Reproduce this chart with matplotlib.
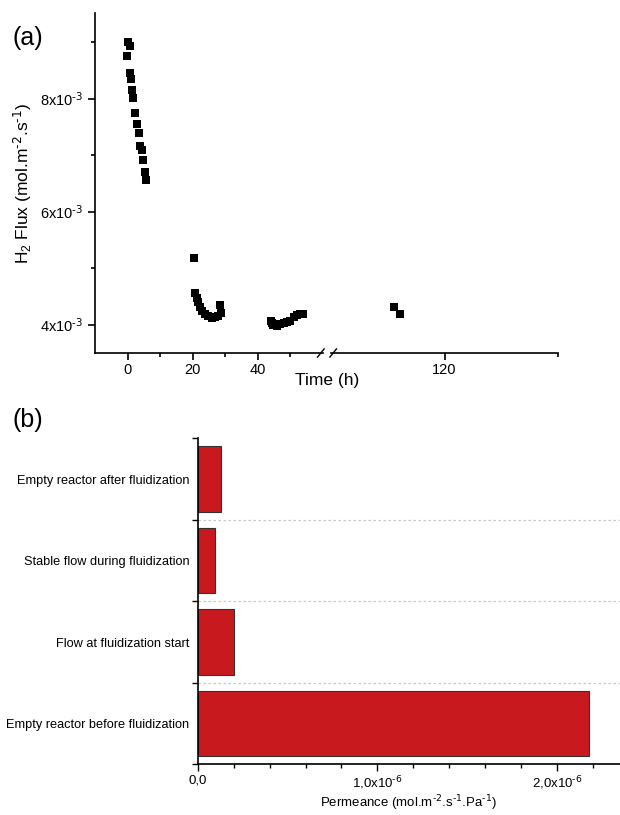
import matplotlib

matplotlib.use("Agg")
import matplotlib.pyplot as plt
from matplotlib.ticker import FixedLocator, FuncFormatter

plt.rcParams["font.family"] = ["Liberation Sans", "DejaVu Sans"]
plt.rcParams["mathtext.default"] = "regular"

# (a) H2 flux vs time, first segment (0-60 h)
time_a = [0.2, 0.6, -0.1, 0.6, 0.9, 1.4, 1.8, 2.3, 2.9, 3.4, 3.9, 4.4, 4.8, 5.3, 5.8,
          20.4, 20.8, 21.2, 21.7, 22.2, 23.0, 23.8, 24.8, 25.8, 26.9, 27.9, 28.6, 28.4,
          44.0, 44.3, 44.8, 45.8, 46.9, 47.9, 48.9, 49.9, 51.0, 52.0, 53.0, 54.0]
flux_a = [9.00, 8.94, 8.75, 8.45, 8.35, 8.15, 8.02, 7.75, 7.55, 7.40, 7.17, 7.10, 6.91, 6.71, 6.57,
          5.18, 4.56, 4.47, 4.40, 4.32, 4.25, 4.19, 4.15, 4.12, 4.14, 4.16, 4.21, 4.35,
          4.07, 4.03, 4.00, 3.98, 4.01, 4.03, 4.05, 4.07, 4.13, 4.18, 4.19, 4.19]
# second segment (after the break)
time_b = [104.4, 106.2]
flux_b = [4.32, 4.19]

# (b) permeance per condition
conditions = ["Empty reactor before fluidization", "Flow at fluidization start",
              "Stable flow during fluidization", "Empty reactor after fluidization"]
permeance = [2.18e-6, 0.204e-6, 0.095e-6, 0.128e-6]

fig = plt.figure(figsize=(6.2, 8.15), dpi=100)

# ---- panel (a): broken x axis ----
W, H = 620.0, 815.0
bot_a = 1 - 353 / H
h_a = (353 - 13) / H
ax1 = fig.add_axes([95 / W, bot_a, (323 - 95) / W, h_a])
ax2 = fig.add_axes([331 / W, bot_a, (558 - 331) / W, h_a], sharey=ax1)

for ax, t, f in ((ax1, time_a, flux_a), (ax2, time_b, flux_b)):
    ax.plot(t, [v * 1e-3 for v in f], "s", color="black", markersize=5.2, markeredgewidth=0)
    for s in ("top", "right"):
        ax.spines[s].set_visible(False)
    ax.tick_params(which="both", direction="out", labelsize=10.5, width=1.2)
    ax.tick_params(which="major", length=5)
    ax.tick_params(which="minor", length=3)
    ax.tick_params(axis="x", pad=2)
    ax.spines["bottom"].set_linewidth(1.2)
    ax.spines["left"].set_linewidth(1.2)

ax1.set_xlim(-10, 60)
ax2.set_xlim(85, 155)
ax1.set_ylim(3.5e-3, 9.52e-3)
ax1.xaxis.set_major_locator(FixedLocator([0, 20, 40]))
ax1.xaxis.set_minor_locator(FixedLocator([10, 30, 50]))
ax2.xaxis.set_major_locator(FixedLocator([120]))
ax2.xaxis.set_minor_locator(FixedLocator([155]))
ax1.yaxis.set_major_locator(FixedLocator([4e-3, 6e-3, 8e-3]))
ax1.yaxis.set_minor_locator(FixedLocator([5e-3, 7e-3, 9e-3]))
ax1.yaxis.set_major_formatter(FuncFormatter(lambda v, p: f"{v * 1e3:.0f}x10$^{{\\text{{-3}}}}$"))
ax2.spines["left"].set_visible(False)
ax2.tick_params(axis="y", which="both", left=False, labelleft=False)

# break marks
d = 0.012
kw = dict(color="black", lw=1.0, clip_on=False)
ax1.plot([1 - 2 * d, 1 + 0.005], [-0.012, 0.012], transform=ax1.transAxes, **kw)
ax2.plot([-0.005, 2 * d], [-0.012, 0.012], transform=ax2.transAxes, **kw)

ax1.set_ylabel("H$_2$ Flux (mol.m$^{\\text{-2}}$.s$^{\\text{-1}}$)", fontsize=12.5, labelpad=4)
fig.text(327 / W, 1 - 380 / H, "Time (h)", fontsize=12.5, ha="center", va="center")
fig.text(12 / W, 1 - 38 / H, "(a)", fontsize=18, ha="left", va="center")

# ---- panel (b): horizontal bars ----
ax3 = fig.add_axes([197.7 / W, 1 - 764.3 / H, 1 - 197.7 / W, (764.3 - 438.3) / H])
ypos = list(range(len(conditions)))
ax3.barh(ypos, permeance, height=0.8, color="#C8191E", edgecolor="#333333", linewidth=0.8)
ax3.set_ylim(-0.5, 3.5)
ax3.set_xlim(0, 2.35e-6)
ax3.yaxis.set_major_locator(FixedLocator(ypos))
ax3.set_yticklabels(conditions, fontsize=9.2)
ax3.yaxis.set_minor_locator(FixedLocator([-0.5, 0.5, 1.5, 2.5, 3.5]))
ax3.tick_params(axis="y", which="major", length=0, pad=6)
ax3.tick_params(axis="y", which="minor", length=4, width=1.0)
for b in [0.5, 1.5, 2.5]:
    ax3.axhline(b, color="#c8c8c8", lw=0.9, ls=(0, (2, 2)), zorder=0)
ax3.xaxis.set_major_locator(FixedLocator([0, 1e-6, 2e-6]))
ax3.xaxis.set_minor_locator(FixedLocator([i * 0.2e-6 for i in range(1, 12) if i % 5]))
ax3.xaxis.set_major_formatter(FuncFormatter(
    lambda v, p: "0,0" if v == 0 else f"{v * 1e6:.1f}".replace(".", ",") + "x10$^{\\text{-6}}$"))
ax3.tick_params(axis="x", which="both", direction="out", labelsize=9.5, width=1.0, pad=2)
ax3.tick_params(axis="x", which="major", length=5)
ax3.tick_params(axis="x", which="minor", length=3)
for s in ("top", "right"):
    ax3.spines[s].set_visible(False)
ax3.spines["left"].set_linewidth(1.2)
ax3.spines["bottom"].set_linewidth(1.2)
ax3.set_xlabel("Permeance (mol.m$^{\\text{-2}}$.s$^{\\text{-1}}$.Pa$^{\\text{-1}}$)", fontsize=9.5, labelpad=1)
fig.text(12 / W, 1 - 420 / H, "(b)", fontsize=18, ha="left", va="center")

fig.savefig("out.png", dpi=100)
